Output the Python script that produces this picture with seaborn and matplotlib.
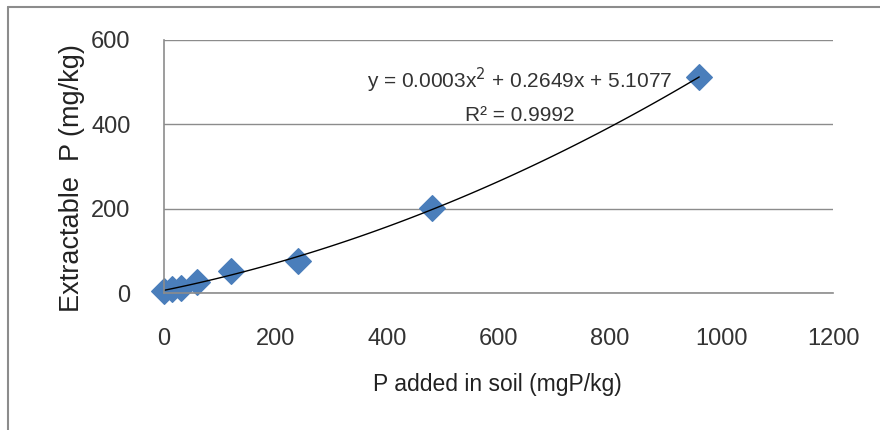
import numpy as np
import pandas as pd
import seaborn as sns
import matplotlib.pyplot as plt
from matplotlib.lines import Line2D

sns.set_style("white")
plt.rcParams["font.family"] = ["Liberation Sans", "DejaVu Sans"]

# P added vs extractable P
p_added = [0, 15, 30, 60, 120, 240, 480, 960]
p_extract = [5, 9, 13, 26, 52, 76, 201, 512]
x_ticks = [0, 200, 400, 600, 800, 1000, 1200]
y_ticks = [0, 200, 400, 600]

df = pd.DataFrame({"added": p_added, "extract": p_extract})

fig = plt.figure(figsize=(8.8, 4.3), dpi=100)
ax = fig.add_axes([0.1864, 0.3186, 0.7602, 0.5884])

# quadratic trend line + diamond markers
sns.regplot(
    x="added", y="extract", data=df, order=2, ci=None, ax=ax,
    marker="D",
    scatter_kws={"s": 170, "color": "#4a7ebb", "edgecolor": "#4a7ebb", "alpha": 1},
    line_kws={"color": "black", "lw": 1},
)

ax.set_xlim(0, 1200)
ax.set_ylim(0, 600)
ax.set_xticks(x_ticks)
ax.set_yticks(y_ticks)
ax.tick_params(labelsize=17, length=0, colors="#333333")
ax.tick_params(axis="x", pad=25)
ax.tick_params(axis="y", pad=24)
ax.yaxis.grid(True, color="#8c8c8c", lw=1)
ax.set_axisbelow(True)
for s in ["top", "right"]:
    ax.spines[s].set_visible(False)
for s in ["left", "bottom"]:
    ax.spines[s].set_color("#8c8c8c")
    ax.spines[s].set_linewidth(1.2)
for p in ax.collections:
    p.set_clip_on(False)

ax.set_xlabel("P added in soil (mgP/kg)", fontsize=16.5, color="#222222")
ax.set_ylabel("Extractable  P (mg/kg)", fontsize=19.5, color="#222222")
ax.xaxis.set_label_coords(0.4985, -0.316)
ax.yaxis.set_label_coords(-0.118, 0.455)

ax.text(0.532, 0.842, "y = 0.0003x$^2$ + 0.2649x + 5.1077", transform=ax.transAxes,
        ha="center", va="center", fontsize=15, color="#333333")
ax.text(0.532, 0.700, "R² = 0.9992", transform=ax.transAxes,
        ha="center", va="center", fontsize=15, color="#333333")

# outer chart border (top and left visible)
fig.add_artist(Line2D([8 / 880, 8 / 880], [0, 1 - 7 / 430], transform=fig.transFigure, color="#8c8c8c", lw=1.5))
fig.add_artist(Line2D([8 / 880, 1], [1 - 7 / 430, 1 - 7 / 430], transform=fig.transFigure, color="#8c8c8c", lw=1.5))

fig.savefig("out.png", dpi=100)
